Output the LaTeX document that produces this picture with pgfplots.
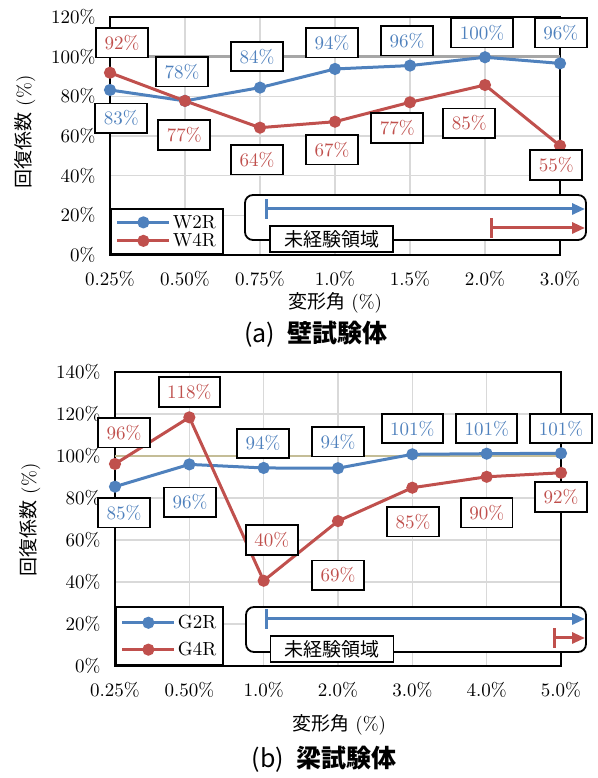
\documentclass[border=0pt]{standalone}
\usepackage{fontspec}
\setmainfont{lmroman10-regular.otf}[BoldFont=lmroman10-bold.otf, ItalicFont=lmroman10-italic.otf]
\usepackage{pgfplots}
\pgfplotsset{compat=1.18}
\usetikzlibrary{arrows.meta}
\newfontfamily\cjk{Noto Sans CJK JP}
\definecolor{cblue}{HTML}{4F81BD}
\definecolor{cred}{HTML}{C0504D}
\definecolor{refgray}{HTML}{A6A6A6}
\definecolor{reftan}{HTML}{C4BD97}
\definecolor{gridc}{HTML}{D9D9D9}
\newcommand\chfont{\fontsize{19}{22}\selectfont}

\pgfplotsset{
  chart/.style={
    scale only axis, xmin=0, xmax=6, ymin=0, xtick={0,...,6}, ytick distance=20,
    grid=major, grid style={gridc, line width=1.2pt},
    axis line style={line width=1.6pt}, major tick length=0pt,
    /pgf/number format/assume math mode=true,
    yticklabel={\pgfmathprintnumber{\tick}\%},
    tick label style={font=\chfont},
    yticklabel style={xshift=-11pt}, xticklabel style={yshift=-13pt},
    clip=false,
    legend cell align=left,
    legend style={at={(0,0)}, anchor=south west, draw=black, line width=1.8pt,
      inner xsep=5pt, inner ysep=4pt, font=\chfont},
    legend image code/.code={\draw[mark repeat=2,mark phase=2,##1]
      plot coordinates {(0pt,0pt) (26pt,0pt) (52pt,0pt)};},
  },
  ser/.style={#1, line width=3pt, mark=*, mark size=4.5pt, mark options={solid, fill=#1}},
  lab/.style={forget plot, draw=none, nodes near coords={\pgfplotspointmeta\%},
    point meta=explicit symbolic,
    nodes near coords style={anchor=center, draw=black, line width=1.8pt, fill=white,
      text=#1, inner xsep=8.5pt, inner ysep=7pt, font=\chfont}},
}
\tikzset{
  note/.style={line width=1.8pt, draw=black, fill=white, minimum width=123pt,
    minimum height=26pt, inner sep=0pt, font=\chfont\cjk},
  span/.style={line width=3pt, {Bar[width=20pt]}-{Triangle[length=13pt,width=11pt]}},
}

\begin{document}
\begin{tikzpicture}[font=\chfont]
\path[use as bounding box] (0,0) rectangle (597pt,778pt);

% (a) wall specimens
\begin{axis}[chart, at={(110pt,523pt)}, anchor=south west,
  width=450pt, height=238pt, ymax=120,
  xticklabels={0.25\%,0.50\%,0.75\%,1.0\%,1.5\%,2.0\%,3.0\%},
  legend style={row sep=0pt}]
\addplot[forget plot, refgray, line width=2.5pt] coordinates {(0,100) (6,100)};
\addplot[ser=cblue] coordinates {(0,83.2) (1,77.7) (2,84.4) (3,93.8) (4,95.5) (5,99.7) (6,96.6)};
\addplot[ser=cred] coordinates {(0,91.9) (1,77.7) (2,64.2) (3,67.2) (4,77.0) (5,85.7) (6,55.1)};
\legend{W2R, W4R}
\addplot[lab=cblue] table[meta=t] {
x y t
0.15 69 83
0.96 92.3 78
1.96 100 84
2.96 107 94
3.96 108 96
4.96 112 100
6.01 112 96
};
\addplot[lab=cred] table[meta=t] {
x y t
0.16 107 92
0.99 60.5 77
1.96 48 64
2.96 53 67
3.83 64 77
4.79 66.5 85
5.95 45.4 55
};
\end{axis}

\draw[line width=1.8pt, rounded corners=8pt, fill=white] (245pt,583pt) rectangle (586pt,538pt);
\draw[cblue, span] (265pt,569pt) -- (585pt,569pt);
\draw[cred, span] (490pt,550pt) -- (585pt,550pt);
\node[note] at (331.5pt,539pt) {未経験領域};

\node[rotate=90] at (25pt,646pt) {{\cjk 回復係数} (\%)};
\node at (335pt,475pt) {{\cjk 変形角} (\%)};
\node at (316pt,444pt) {\fontsize{25}{28}\selectfont\cjk (a)\hspace{0.5em}{\bfseries 壁試験体}};

% (b) beam specimens
\begin{axis}[chart, at={(115pt,112pt)}, anchor=south west,
  width=446pt, height=294pt, ymax=140,
  xticklabels={0.25\%,0.50\%,1.0\%,2.0\%,3.0\%,4.0\%,5.0\%},
  legend style={row sep=8pt, inner ysep=6pt}]
\addplot[forget plot, reftan, line width=2.5pt] coordinates {(0,100) (6,100)};
\addplot[ser=cblue] coordinates {(0,85.4) (1,96.0) (2,94.3) (3,94.2) (4,100.8) (5,101.1) (6,101.3)};
\addplot[ser=cred] coordinates {(0,96.2) (1,118.4) (2,40.6) (3,69.0) (4,84.9) (5,90.1) (6,92.0)};
\legend{G2R, G4R}
\addplot[lab=cblue] table[meta=t] {
x y t
0.12 72.9 85
1.01 78 96
1.99 106 94
3.0 106.7 94
4.0 113 101
5.0 113 101
6.0 113 101
};
\addplot[lab=cred] table[meta=t] {
x y t
0.12 111 96
1.0 130.5 118
2.11 60 40
3.0 43.3 69
4.01 68.6 85
5.0 72.9 90
6.0 80.5 92
};
\end{axis}

\draw[line width=1.8pt, rounded corners=8pt, fill=white] (246pt,171pt) rectangle (586pt,126pt);
\draw[cblue, span] (265pt,159pt) -- (585pt,159pt);
\draw[cred, span] (553pt,140pt) -- (585pt,140pt);
\node[note] at (332pt,129pt) {未経験領域};

\node[rotate=90] at (30pt,258pt) {{\cjk 回復係数} (\%)};
\node at (339pt,53pt) {{\cjk 変形角} (\%)};
\node at (324pt,19pt) {\fontsize{25}{28}\selectfont\cjk (b)\hspace{0.5em}{\bfseries 梁試験体}};
\end{tikzpicture}
\end{document}
